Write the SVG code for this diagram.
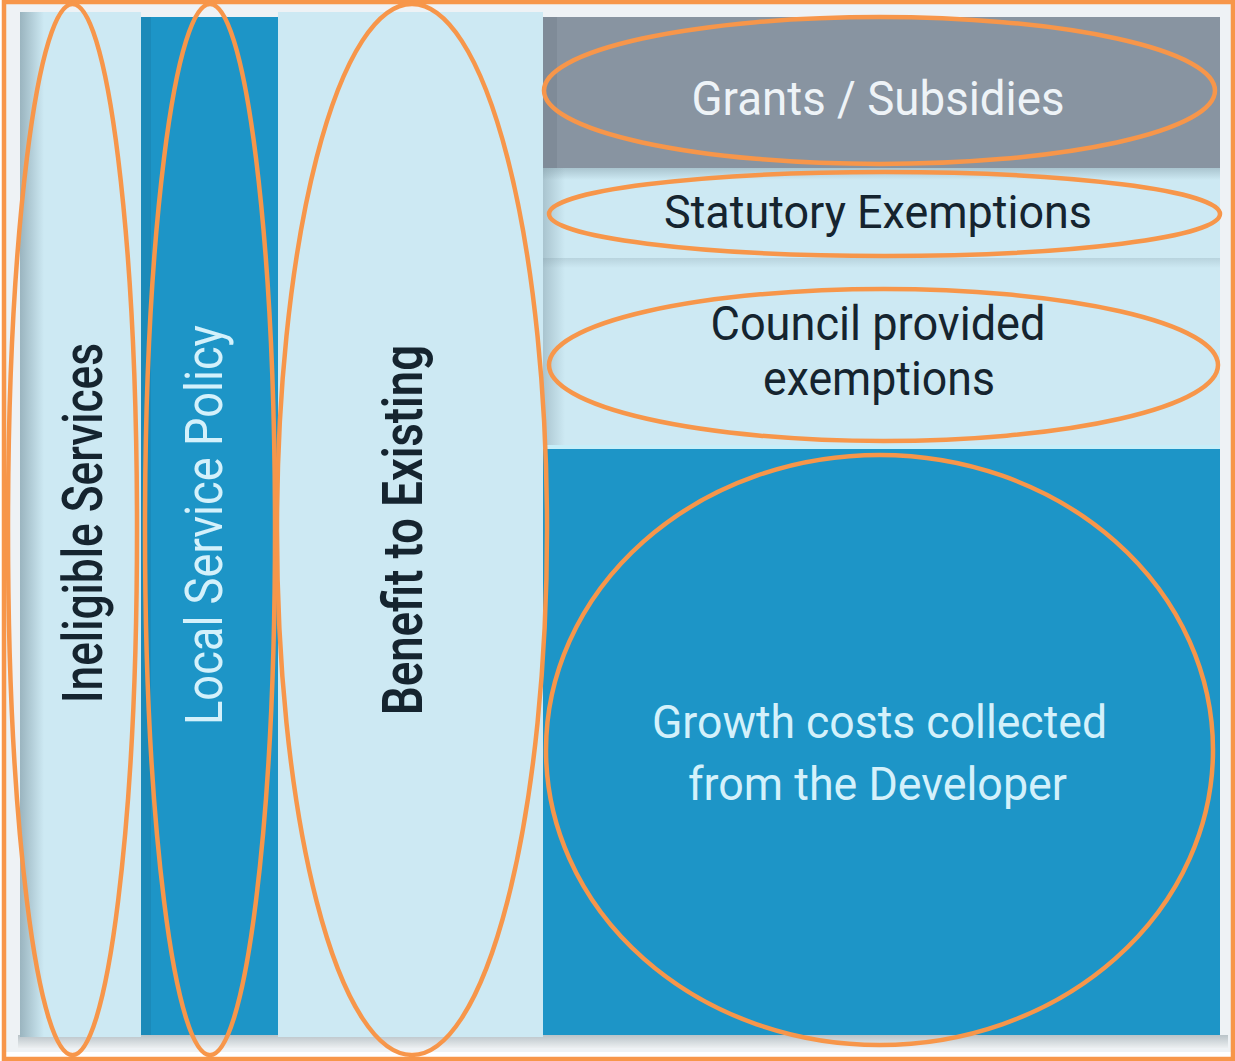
<svg xmlns="http://www.w3.org/2000/svg" width="1235" height="1061" viewBox="0 0 1235 1061">
  <defs>
    <style>
      .light { fill: #cde9f3; }
      .dark { fill: #1d95c7; }
      .grey { fill: #8894a1; }
      .lbl { font-family: Roboto, "Liberation Sans", sans-serif; text-anchor: middle; }
      .ink { fill: #15242f; }
      .pale { fill: #eef3f7; }
      .cyan { fill: #d4f1fb; }
      .ring { fill: none; stroke: #f7964a; stroke-width: 4.5; }
    </style>
    <!-- soft shade along the left edge of a panel -->
    <linearGradient id="shadeLeft" x1="0" y1="0" x2="1" y2="0">
      <stop offset="0" stop-color="#7f98a3" stop-opacity="0.65"/>
      <stop offset="1" stop-color="#7f98a3" stop-opacity="0"/>
    </linearGradient>
    <!-- soft shade below a panel -->
    <linearGradient id="shadeDown" x1="0" y1="0" x2="0" y2="1">
      <stop offset="0" stop-color="#7f98a3" stop-opacity="0.45"/>
      <stop offset="1" stop-color="#7f98a3" stop-opacity="0"/>
    </linearGradient>
    <linearGradient id="floorShade" x1="0" y1="0" x2="0" y2="1">
      <stop offset="0" stop-color="#b9c3c8"/>
      <stop offset="1" stop-color="#eceff1"/>
    </linearGradient>
  </defs>

  <!-- page -->
  <rect x="0" y="0" width="1235" height="1061" fill="#ffffff"/>
  <rect x="6" y="4" width="1225" height="1048" fill="#eef2f5"/>
  <rect x="18" y="1035" width="1210" height="13" fill="url(#floorShade)"/>

  <!-- left columns -->
  <g id="ineligible-services">
    <rect class="light" x="20" y="12" width="121" height="1025"/>
    <rect x="20" y="12" width="24" height="1025" fill="url(#shadeLeft)"/>
    <text class="lbl ink" font-size="55" font-weight="500" textLength="360" lengthAdjust="spacingAndGlyphs" transform="translate(102 523) rotate(-90)">Ineligible Services</text>
  </g>

  <g id="local-service-policy">
    <rect class="dark" x="141" y="17" width="137" height="1018"/>
    <rect x="141" y="17" width="10" height="1018" fill="#1a7fac" opacity="0.5"/>
    <text class="lbl cyan" font-size="52" textLength="400" lengthAdjust="spacingAndGlyphs" transform="translate(222 525) rotate(-90)">Local Service Policy</text>
  </g>

  <g id="benefit-to-existing">
    <rect class="light" x="278" y="12" width="265" height="1025"/>
    <text class="lbl ink" font-size="55" font-weight="600" textLength="370" lengthAdjust="spacingAndGlyphs" transform="translate(422 530) rotate(-90)">Benefit to Existing</text>
  </g>

  <!-- right stack -->
  <g id="grants-subsidies">
    <rect class="grey" x="543" y="17" width="677" height="151"/>
    <text class="lbl pale" x="878" y="115" font-size="49" textLength="373" lengthAdjust="spacingAndGlyphs">Grants / Subsidies</text>
  </g>

  <g id="statutory-exemptions">
    <rect class="light" x="543" y="168" width="677" height="90"/>
    <rect x="543" y="168" width="677" height="12" fill="url(#shadeDown)"/>
    <text class="lbl ink" x="878" y="228" font-size="47" textLength="428" lengthAdjust="spacingAndGlyphs">Statutory Exemptions</text>
  </g>

  <g id="council-exemptions">
    <rect class="light" x="543" y="258" width="677" height="187"/>
    <rect x="543" y="258" width="677" height="10" fill="url(#shadeDown)" opacity="0.6"/>
    <text class="lbl ink" x="878" y="340" font-size="49" textLength="335" lengthAdjust="spacingAndGlyphs">Council provided</text>
    <text class="lbl ink" x="879" y="395" font-size="49" textLength="232" lengthAdjust="spacingAndGlyphs">exemptions</text>
  </g>

  <g id="growth-costs">
    <rect class="dark" x="543" y="445" width="677" height="590"/>
    <rect x="543" y="445" width="677" height="4" fill="#c6eef9"/>
    <text class="lbl cyan" x="879.5" y="738" font-size="47" textLength="455" lengthAdjust="spacingAndGlyphs">Growth costs collected</text>
    <text class="lbl cyan" x="877.5" y="800" font-size="47" textLength="379" lengthAdjust="spacingAndGlyphs">from the Developer</text>
  </g>

  <!-- shade where the right stack meets the column beside it -->
  <rect x="543" y="168" width="22" height="277" fill="url(#shadeLeft)" opacity="0.7"/>
  <rect x="543" y="17" width="14" height="151" fill="#6f7c88" opacity="0.35"/>

  <!-- orange highlight rings -->
  <g id="highlights">
    <rect class="ring" x="4" y="2" width="1229" height="1057"/>
    <ellipse class="ring" cx="72.5" cy="529.5" rx="64.5" ry="525.5"/>
    <ellipse class="ring" cx="210" cy="529.5" rx="65" ry="525.5"/>
    <ellipse class="ring" cx="412" cy="529.5" rx="135" ry="525.5"/>
    <ellipse class="ring" cx="879.5" cy="90.5" rx="335.5" ry="73.5"/>
    <ellipse class="ring" cx="884.5" cy="214" rx="335.5" ry="42"/>
    <ellipse class="ring" cx="883.5" cy="365" rx="334.5" ry="76"/>
    <ellipse class="ring" cx="879.5" cy="750" rx="333.5" ry="295"/>
  </g>
</svg>
